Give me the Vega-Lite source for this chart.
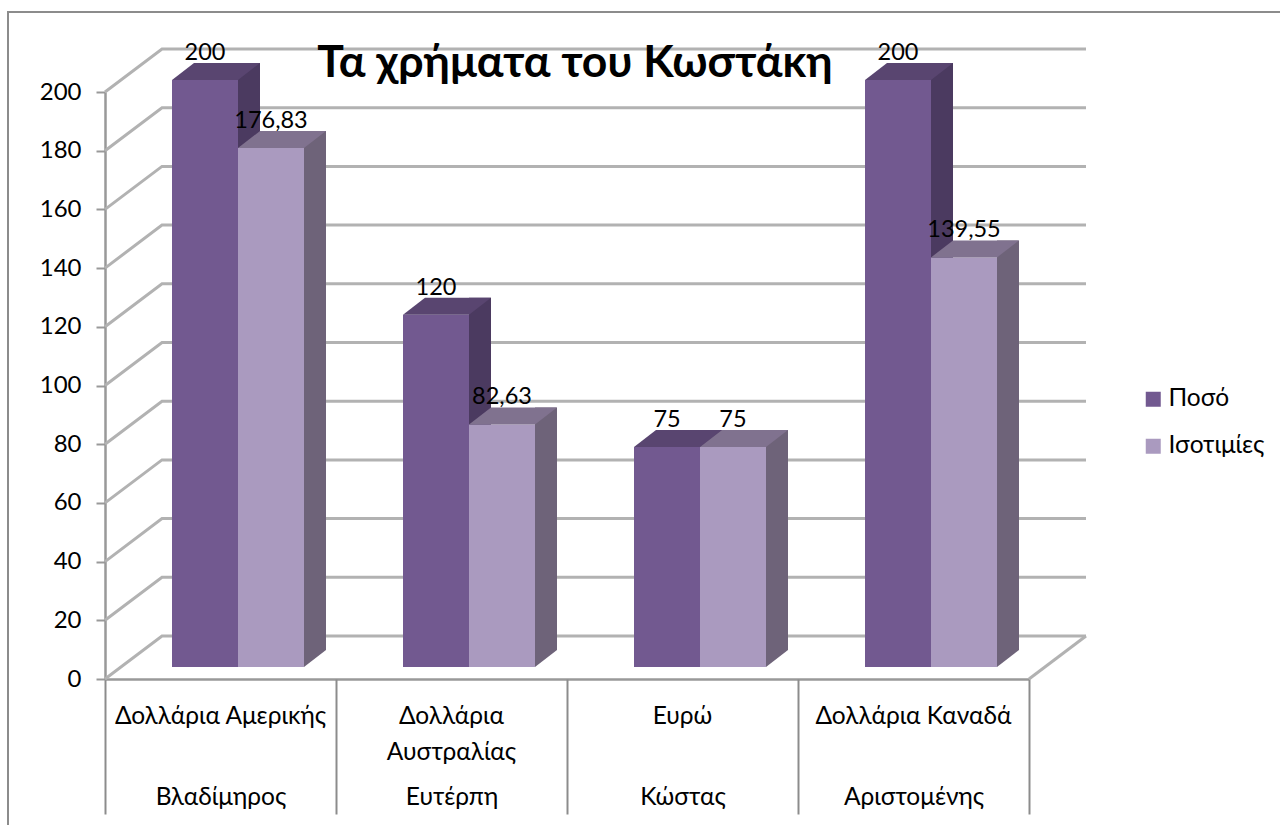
{
  "$schema": "https://vega.github.io/schema/vega-lite/v6.json",
  "width": 1280,
  "height": 820,
  "autosize": {"type": "none"},
  "padding": {"left": 8, "top": 12, "right": 0, "bottom": 0},
  "background": "white",
  "view": {"stroke": "#8c8c8c", "strokeWidth": 2, "fill": "white"},
  "config": {"font": "Lato"},
  "datasets": {
    "bars": [
      {"person": "Βλαδίμηρος", "currency": "Δολλάρια Αμερικής", "series": "Ποσό", "value": 200, "label": "200"},
      {"person": "Βλαδίμηρος", "currency": "Δολλάρια Αμερικής", "series": "Ισοτιμίες", "value": 176.83, "label": "176,83"},
      {"person": "Ευτέρπη", "currency": "Δολλάρια Αυστραλίας", "series": "Ποσό", "value": 120, "label": "120"},
      {"person": "Ευτέρπη", "currency": "Δολλάρια Αυστραλίας", "series": "Ισοτιμίες", "value": 82.63, "label": "82,63"},
      {"person": "Κώστας", "currency": "Ευρώ", "series": "Ποσό", "value": 75, "label": "75"},
      {"person": "Κώστας", "currency": "Ευρώ", "series": "Ισοτιμίες", "value": 75, "label": "75"},
      {"person": "Αριστομένης", "currency": "Δολλάρια Καναδά", "series": "Ποσό", "value": 200, "label": "200"},
      {"person": "Αριστομένης", "currency": "Δολλάρια Καναδά", "series": "Ισοτιμίες", "value": 139.55, "label": "139,55"}
    ],
    "ticks": [
      {"tick": 0}, {"tick": 20}, {"tick": 40}, {"tick": 60}, {"tick": 80}, {"tick": 100},
      {"tick": 120}, {"tick": 140}, {"tick": 160}, {"tick": 180}, {"tick": 200}
    ]
  },
  "resolve": {"scale": {"x": "independent", "y": "independent", "color": "independent", "xOffset": "independent"}},
  "layer": [
    {
      "data": {"name": "ticks"},
      "mark": {"type": "point", "shape": "M0,0L57,-43L981,-43", "size": 4, "filled": false, "stroke": "#b2b2b2", "strokeWidth": 3, "opacity": 1},
      "encoding": {
        "x": {"datum": 0, "type": "quantitative", "scale": {"domain": [0, 4], "range": [97, 1021]}, "axis": null},
        "y": {"field": "tick", "type": "quantitative", "scale": {"domain": [0, 200], "range": [667, 80]},
          "axis": {"title": null, "orient": "left", "offset": -97, "values": [0,20,40,60,80,100,120,140,160,180,200], "grid": false, "domainColor": "#999999", "domainWidth": 2.5, "tickColor": "#999999", "tickWidth": 2, "tickSize": 9, "labelFontSize": 24, "labelColor": "#000000", "labelPadding": 15}}
      }
    },
    {
      "data": {"name": "ticks"},
      "transform": [{"filter": "datum.tick === 0"}],
      "mark": {"type": "point", "shape": "M0,0L57,-43", "size": 4, "filled": false, "stroke": "#b2b2b2", "strokeWidth": 3, "opacity": 1},
      "encoding": {
        "x": {"datum": 4, "type": "quantitative", "scale": {"domain": [0, 4], "range": [97, 1021]}, "axis": null},
        "y": {"field": "tick", "type": "quantitative", "scale": {"domain": [0, 200], "range": [667, 80]}, "axis": null}
      }
    },
    {
      "data": {"name": "bars"},
      "mark": {"type": "bar", "opacity": 0},
      "encoding": {
        "x": {"field": "currency", "type": "nominal", "sort": null, "scale": {"type": "band", "range": [97, 1021], "padding": 0},
          "axis": {"title": null, "orient": "bottom", "offset": -153, "labelAngle": 0, "ticks": false, "domainColor": "#999999", "domainWidth": 2.5, "labelFontSize": 24.5, "labelColor": "#000000", "labelPadding": 25, "labelLimit": 300, "labelLineHeight": 36, "labelExpr": "datum.label === 'Δολλάρια Αυστραλίας' ? ['Δολλάρια', 'Αυστραλίας'] : datum.label"}},
        "y": {"field": "value", "type": "quantitative", "scale": {"domain": [0, 200], "range": [667, 80]}, "axis": null}
      }
    },
    {
      "data": {"name": "bars"},
      "mark": {"type": "bar", "opacity": 0},
      "encoding": {
        "x": {"field": "person", "type": "nominal", "sort": null, "scale": {"type": "band", "range": [97, 1021], "padding": 0},
          "axis": {"title": null, "orient": "bottom", "offset": -153, "labelAngle": 0, "domain": false, "tickBand": "extent", "tickExtra": true, "tickSize": 135, "tickColor": "#8c8c8c", "tickWidth": 2, "labelFontSize": 24.5, "labelColor": "#000000", "labelPadding": -29, "labelLimit": 300}},
        "y": {"field": "value", "type": "quantitative", "scale": {"domain": [0, 200], "range": [667, 80]}, "axis": null}
      }
    },
    {
      "data": {"name": "bars"},
      "mark": {"type": "bar", "width": 22},
      "encoding": {
        "x": {"field": "person", "type": "nominal", "sort": null, "scale": {"type": "band", "range": [158.5, 1082.5], "paddingInner": 0.4286, "paddingOuter": 0.2143}, "axis": null},
        "xOffset": {"field": "series", "type": "nominal", "sort": ["Ποσό", "Ισοτιμίες"], "scale": {"domain": ["Ποσό", "Ισοτιμίες"]}},
        "y": {"field": "value", "type": "quantitative", "scale": {"domain": [0, 200], "range": [638, 51]}, "axis": null},
        "color": {"field": "series", "type": "nominal", "scale": {"domain": ["Ποσό", "Ισοτιμίες"], "range": ["#4b3a60", "#6e6379"]}, "legend": null}
      }
    },
    {
      "data": {"name": "bars"},
      "mark": {"type": "point", "shape": "M33,0L55,-17L33,-17Z", "size": 4, "filled": true, "opacity": 1},
      "encoding": {
        "x": {"field": "person", "type": "nominal", "sort": null, "scale": {"type": "band", "range": [114.5, 1038.5], "paddingInner": 0.4286, "paddingOuter": 0.2143}, "axis": null},
        "xOffset": {"field": "series", "type": "nominal", "scale": {"domain": ["Ποσό", "Ισοτιμίες"]}},
        "y": {"datum": 0, "type": "quantitative", "scale": {"domain": [0, 200], "range": [655, 68]}, "axis": null},
        "color": {"field": "series", "type": "nominal", "scale": {"domain": ["Ποσό", "Ισοτιμίες"], "range": ["#4b3a60", "#6e6379"]}, "legend": null}
      }
    },
    {
      "data": {"name": "bars"},
      "mark": {"type": "bar"},
      "encoding": {
        "x": {"field": "person", "type": "nominal", "sort": null, "scale": {"type": "band", "range": [114.5, 1038.5], "paddingInner": 0.4286, "paddingOuter": 0.2143}, "axis": null},
        "xOffset": {"field": "series", "type": "nominal", "scale": {"domain": ["Ποσό", "Ισοτιμίες"]}},
        "y": {"field": "value", "type": "quantitative", "scale": {"domain": [0, 200], "range": [655, 68]}, "axis": null},
        "color": {"field": "series", "type": "nominal", "scale": {"domain": ["Ποσό", "Ισοτιμίες"], "range": ["#725990", "#aa9abf"]},
          "legend": {"title": null, "orient": "none", "legendX": 1133, "legendY": 375, "symbolType": "square", "symbolSize": 225, "symbolStrokeWidth": 0, "labelFontSize": 24.5, "labelColor": "#000000", "labelOffset": 3, "rowPadding": 22, "labelFont": "Lato"}}
      }
    },
    {
      "data": {"name": "bars"},
      "mark": {"type": "point", "shape": "M-33,0L33,0L55,-17L-11,-17Z", "size": 4, "filled": true, "opacity": 1},
      "encoding": {
        "x": {"field": "person", "type": "nominal", "sort": null, "scale": {"type": "band", "range": [114.5, 1038.5], "paddingInner": 0.4286, "paddingOuter": 0.2143}, "axis": null},
        "xOffset": {"field": "series", "type": "nominal", "scale": {"domain": ["Ποσό", "Ισοτιμίες"]}},
        "y": {"field": "value", "type": "quantitative", "scale": {"domain": [0, 200], "range": [655, 68]}, "axis": null},
        "color": {"field": "series", "type": "nominal", "scale": {"domain": ["Ποσό", "Ισοτιμίες"], "range": ["#594570", "#80728f"]}, "legend": null}
      }
    },
    {
      "data": {"name": "bars"},
      "mark": {"type": "text", "fontSize": 23.5, "color": "#000000", "baseline": "middle", "dy": -27},
      "encoding": {
        "x": {"field": "person", "type": "nominal", "sort": null, "scale": {"type": "band", "range": [114.5, 1038.5], "paddingInner": 0.4286, "paddingOuter": 0.2143}, "axis": null},
        "xOffset": {"field": "series", "type": "nominal", "scale": {"domain": ["Ποσό", "Ισοτιμίες"]}},
        "y": {"field": "value", "type": "quantitative", "scale": {"domain": [0, 200], "range": [655, 68]}, "axis": null},
        "text": {"field": "label", "type": "nominal"}
      }
    },
    {
      "data": {"values": [{"heading": "Τα χρήματα του Κωστάκη"}]},
      "mark": {"type": "text", "fontSize": 44.5, "fontWeight": "bold", "color": "#000000", "align": "center", "baseline": "alphabetic", "dx": 8, "dy": -15},
      "encoding": {
        "x": {"datum": 2, "type": "quantitative", "scale": {"domain": [0, 4], "range": [97, 1021]}, "axis": null},
        "y": {"datum": 200, "type": "quantitative", "scale": {"domain": [0, 200], "range": [667, 80]}, "axis": null},
        "text": {"field": "heading", "type": "nominal"}
      }
    }
  ]
}
